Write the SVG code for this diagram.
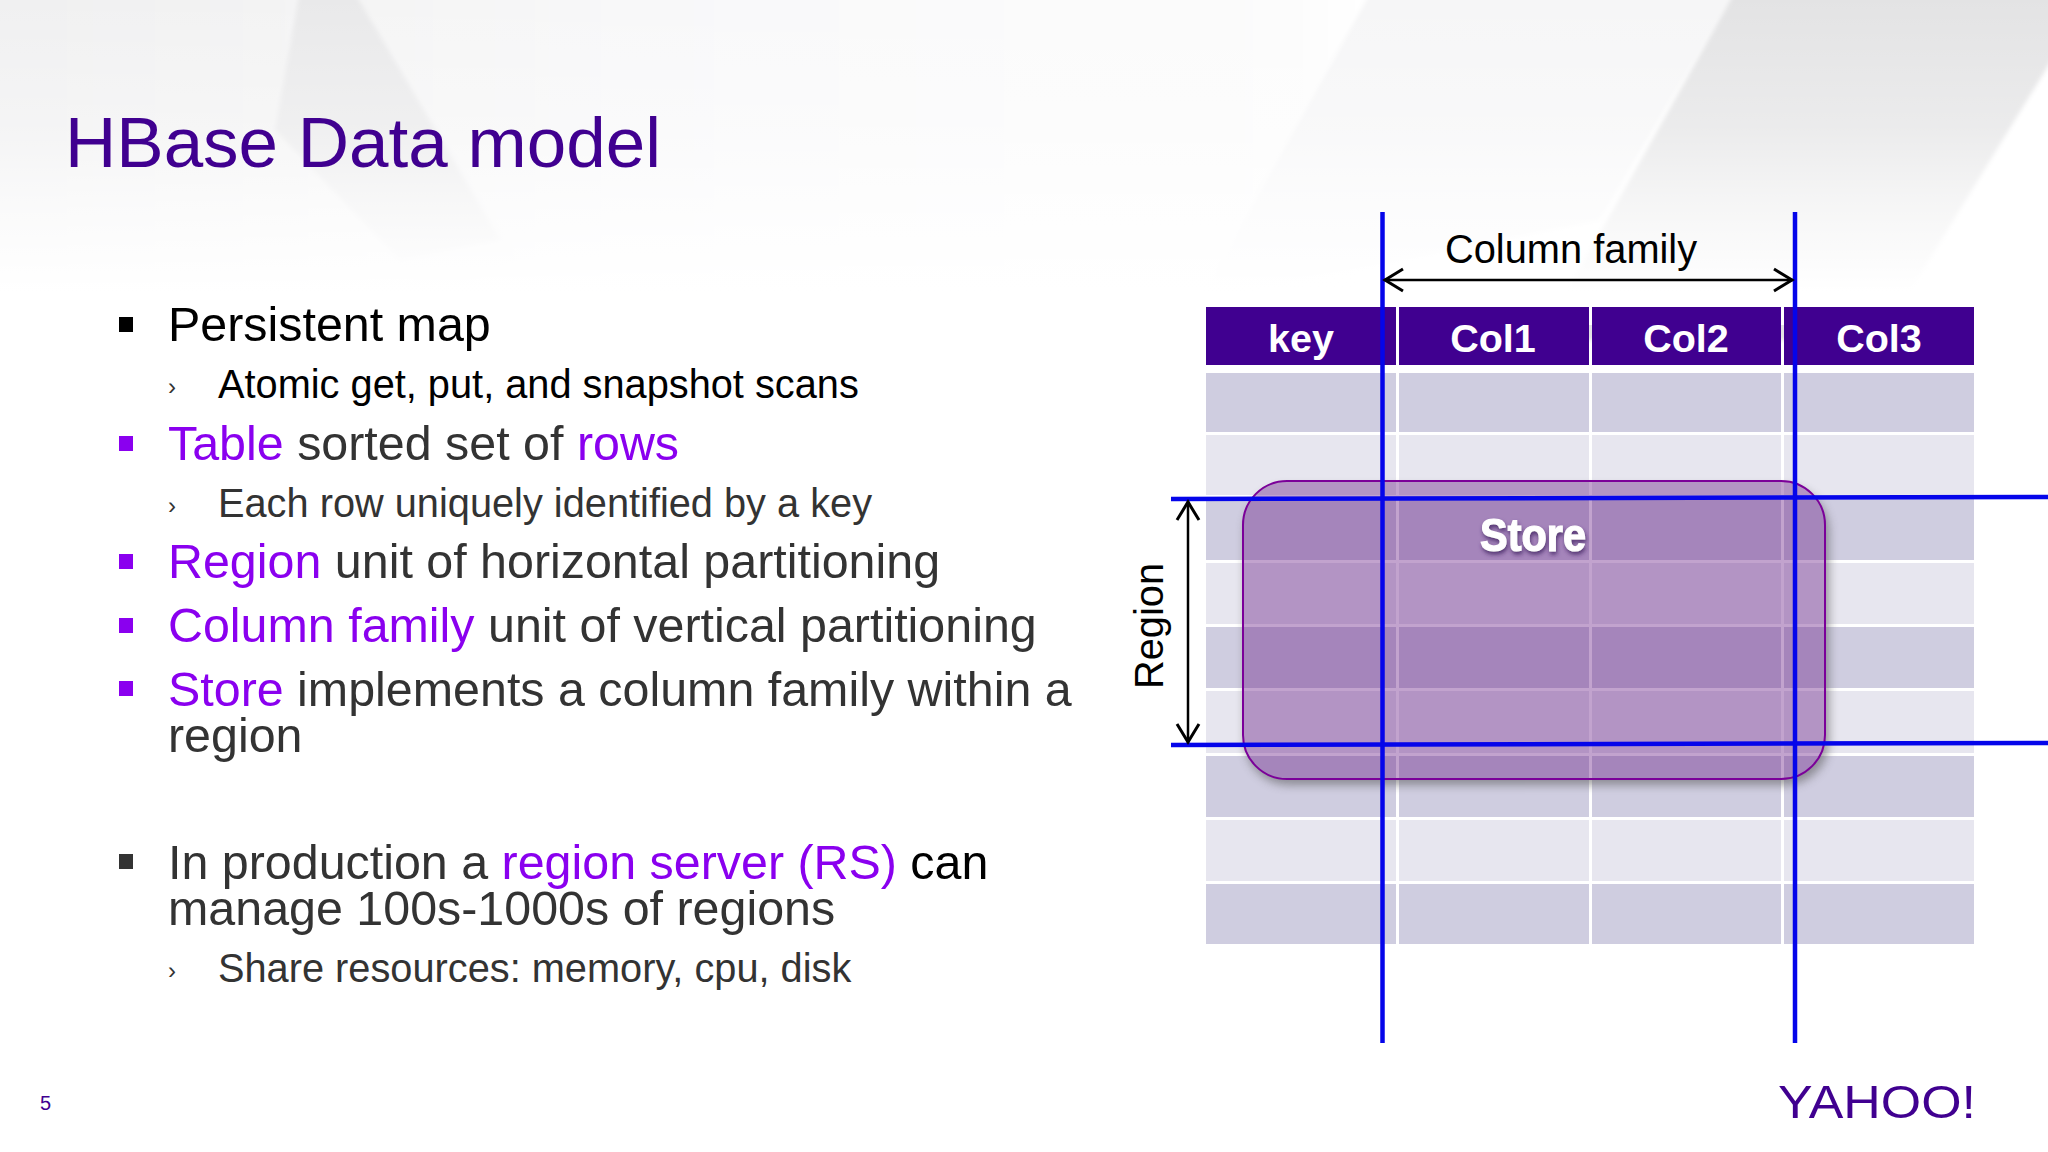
<svg xmlns="http://www.w3.org/2000/svg" width="2048" height="1152" viewBox="0 0 2048 1152">
<defs>
<linearGradient id="fade" x1="0" y1="0" x2="0" y2="1"><stop offset="0" stop-color="#fff" stop-opacity="0"/><stop offset="0.4" stop-color="#fff" stop-opacity=".3"/><stop offset="0.62" stop-color="#fff" stop-opacity=".65"/><stop offset="0.9" stop-color="#fff" stop-opacity="1"/></linearGradient>
<linearGradient id="base" x1="0" y1="0" x2="1" y2="0"><stop offset="0" stop-color="#f0f0f1"/><stop offset="0.17" stop-color="#f4f4f4"/><stop offset="0.3" stop-color="#f8f8f9"/><stop offset="0.62" stop-color="#fcfcfc"/><stop offset="0.67" stop-color="#fff"/><stop offset="1" stop-color="#fff"/></linearGradient>
<clipPath id="outside"><path clip-rule="evenodd" d="M1243 525a44 44 0 0 1 44-44h494a44 44 0 0 1 44 44v210a44 44 0 0 1-44 44h-494a44 44 0 0 1-44-44z M1213 451v370h642v-370z"/></clipPath>
<marker id="open" viewBox="0 0 24 26" refX="22" refY="13" markerWidth="24" markerHeight="26" markerUnits="userSpaceOnUse" orient="auto-start-reverse"><path d="M3 2L21 13L3 24" fill="none" stroke="#000" stroke-width="3"/></marker>
<filter id="sh" x="-10%" y="-10%" width="120%" height="125%"><feGaussianBlur stdDeviation="5"/></filter>
<filter id="ts" x="-20%" y="-20%" width="140%" height="150%"><feDropShadow dx="1" dy="3" stdDeviation="2" flood-color="#402060" flood-opacity=".8"/></filter>
<filter id="soft" x="-2%" y="-2%" width="104%" height="104%"><feGaussianBlur stdDeviation="2"/></filter>
</defs>
<style>
text{font-family:"Liberation Sans",Arial,sans-serif}
.b{font-size:48.4px;fill:#333}
.s{font-size:39.75px;fill:#333}
.p{fill:#8a00ef}
.k{fill:#000}
.c{font-size:39.5px;font-weight:bold;fill:#fff;text-anchor:middle}
.l{font-size:39.8px;fill:#000}
.d{fill:#cfcde0}
.e{fill:#e7e6ef}
.blue{stroke:#0505ea;stroke-width:4.5;fill:none}
.arr{stroke:#000;stroke-width:2.5;fill:none;marker-start:url(#open);marker-end:url(#open)}
</style>
<rect width="2048" height="1152" fill="#fff"/>
<g id="background">
<g filter="url(#soft)">
<rect x="-10" y="-10" width="2068" height="320" fill="url(#base)"/>
<polygon points="353,-10 520,260 430,300 290,140 285,-10" fill="#f4f4f5"/>
<polygon points="353,-10 500,240 400,260 275,130 300,-10" fill="#e9e9ea"/>
<polygon points="1372,-10 1736,-10 1600,220 1200,300" fill="#f6f6f7"/>
<polygon points="1736,-10 2058,-10 2058,50 1880,340 1540,340" fill="#e3e3e4"/>
</g>
<rect y="-5" width="2048" height="330" fill="url(#fade)"/>
</g>
<text x="65" y="167" font-size="71" fill="#400090">HBase Data model</text>
<g id="bullets">
<rect x="119" y="317" width="14" height="15" fill="#000"/>
<text class="b k" x="168" y="341">Persistent map</text>
<text x="168" y="395" font-size="24" fill="#333">›</text>
<text class="s k" x="218" y="398">Atomic get, put, and snapshot scans</text>
<rect x="119" y="436" width="14" height="15" fill="#8a00ef"/>
<text class="b" x="168" y="460"><tspan class="p">Table</tspan> sorted set of <tspan class="p">rows</tspan></text>
<text x="168" y="514" font-size="24" fill="#333">›</text>
<text class="s" x="218" y="517">Each row uniquely identified by a key</text>
<rect x="119" y="554" width="14" height="15" fill="#8a00ef"/>
<text class="b" x="168" y="578"><tspan class="p">Region</tspan> unit of horizontal partitioning</text>
<rect x="119" y="618" width="14" height="15" fill="#8a00ef"/>
<text class="b" x="168" y="642"><tspan class="p">Column family</tspan> unit of vertical partitioning</text>
<rect x="119" y="681" width="14" height="15" fill="#8a00ef"/>
<text class="b" x="168" y="706"><tspan class="p">Store</tspan> implements a column family within a</text>
<text class="b" x="168" y="752">region</text>
<rect x="119" y="854" width="14" height="15" fill="#333"/>
<text class="b" x="168" y="879">In production a <tspan class="p">region server (RS)</tspan> <tspan class="k">can</tspan></text>
<text class="b" x="168" y="925">manage 100s-1000s of regions</text>
<text x="168" y="979" font-size="24" fill="#333">›</text>
<text class="s" x="218" y="982">Share resources: memory, cpu, disk</text>
</g>
<g id="table">
<g fill="#400090"><rect x="1206" y="307" width="190" height="58"/><rect x="1399" y="307" width="190" height="58"/><rect x="1592" y="307" width="189" height="58"/><rect x="1784" y="307" width="190" height="58"/></g>
<text class="c" x="1301" y="352">key</text><text class="c" x="1493" y="352">Col1</text><text class="c" x="1686" y="352">Col2</text><text class="c" x="1879" y="352">Col3</text>
<rect class="d" x="1206" y="373" width="768" height="59"/>
<rect class="e" x="1206" y="435" width="768" height="60"/>
<rect class="d" x="1206" y="498" width="768" height="62"/>
<rect class="e" x="1206" y="563" width="768" height="61"/>
<rect class="d" x="1206" y="627" width="768" height="61"/>
<rect class="e" x="1206" y="691" width="768" height="62"/>
<rect class="d" x="1206" y="756" width="768" height="61"/>
<rect class="e" x="1206" y="820" width="768" height="61"/>
<rect class="d" x="1206" y="884" width="768" height="60"/>
<g fill="#fff"><rect x="1396" y="373" width="3" height="571"/><rect x="1589" y="373" width="3" height="571"/><rect x="1781" y="373" width="3" height="571"/></g>
</g>
<g id="store">
<g clip-path="url(#outside)"><rect x="1245" y="487" width="584" height="298" rx="44" fill="#555" opacity=".55" filter="url(#sh)"/></g>
<rect x="1243" y="481" width="582" height="298" rx="44" fill="#661984" fill-opacity=".4" stroke="#7b0099" stroke-width="2"/>
<text x="1533" y="551" font-size="46" font-weight="bold" fill="#fff" stroke="#fff" stroke-width="1.2" text-anchor="middle" textLength="106" lengthAdjust="spacingAndGlyphs" filter="url(#ts)">Store</text>
</g>
<g id="connectors">
<line class="blue" x1="1382.5" y1="212" x2="1382.5" y2="1043"/>
<line class="blue" x1="1795" y1="212" x2="1795" y2="1043"/>
<line class="blue" x1="1171" y1="499" x2="2048" y2="497"/>
<line class="blue" x1="1171" y1="745" x2="2048" y2="743"/>
<line class="arr" x1="1384" y1="280" x2="1793" y2="280"/>
<line class="arr" x1="1188" y1="501" x2="1188" y2="743"/>
</g>
<text class="l" x="1445" y="263">Column family</text>
<text class="l" transform="translate(1163,689) rotate(-90)">Region</text>
<text id="page" x="40" y="1110" font-size="20" fill="#400090">5</text>
<text id="logo" x="1778" y="1118" font-size="46" fill="#400090" textLength="198" lengthAdjust="spacingAndGlyphs">YAHOO!</text>
</svg>
